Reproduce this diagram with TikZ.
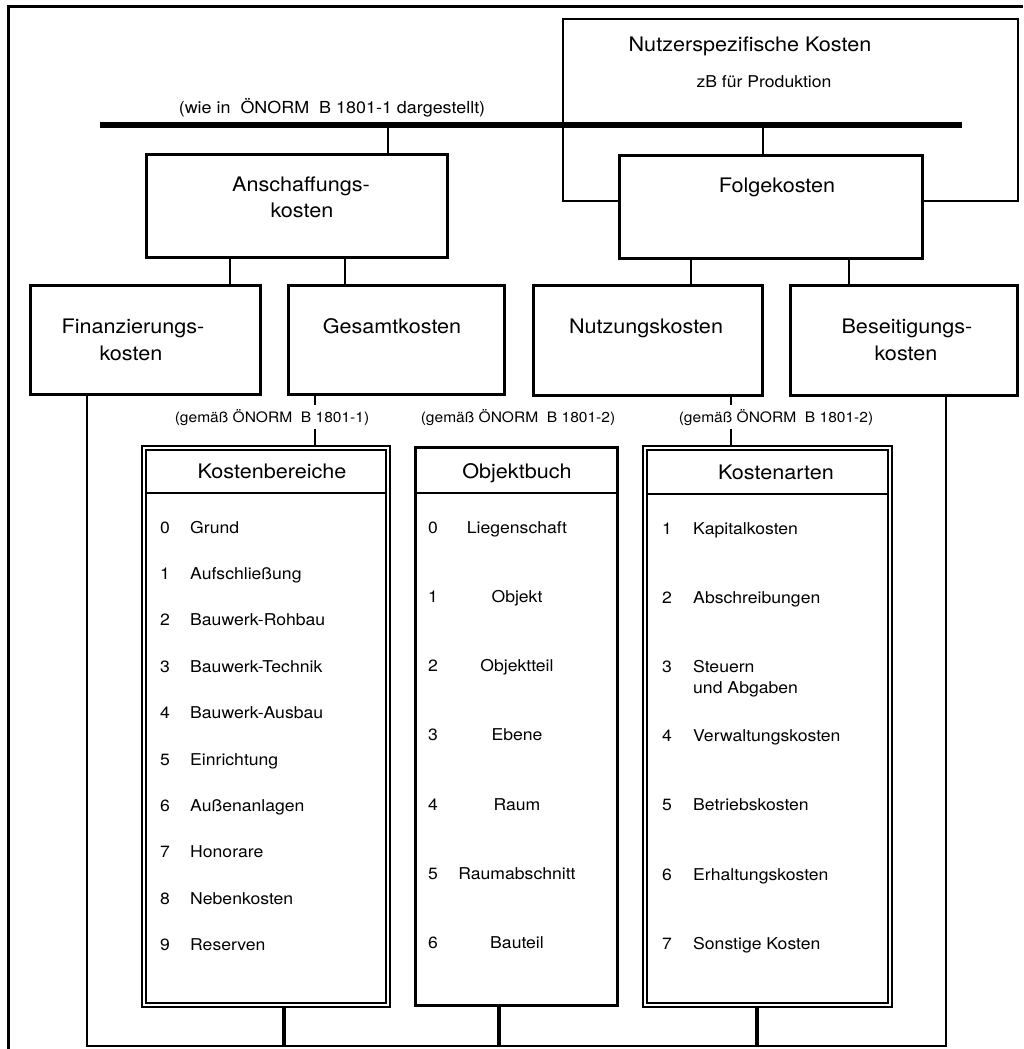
\documentclass[tikz,border=0pt]{standalone}
\usepackage{fontspec}
\setmainfont{TeX Gyre Heros}[FakeStretch=1.08]
\usetikzlibrary{calc}
\begin{document}
\begin{tikzpicture}[x=1pt,y=-1pt,
  box/.style={draw,line width=2.7pt,fill=white,inner sep=0pt,anchor=north west},
  dbox/.style={draw,line width=1.8pt,fill=white,inner sep=0pt,anchor=north west},
  thinbox/.style={draw,line width=1.6pt,inner sep=0pt,anchor=north west},
  conn/.style={line width=2.5pt},
  bconn/.style={line width=3.5pt},
  bar/.style={line width=6pt},
  hdr/.style={font=\fontsize{20}{24}\selectfont,inner sep=0pt,anchor=base},
  sub/.style={font=\fontsize{16.3}{20}\selectfont,inner sep=0pt,anchor=base},
  lbl/.style={font=\fontsize{14.4}{18}\selectfont,inner xsep=3pt,inner ysep=4pt,anchor=base,fill=white},
  toplbl/.style={font=\fontsize{16.6}{20}\selectfont,inner sep=0pt,anchor=base},
  num/.style={font=\fontsize{16.3}{20}\selectfont,inner sep=0pt,anchor=base},
  item/.style={font=\fontsize{16.3}{20}\selectfont,inner sep=0pt,anchor=base west},
  citem/.style={font=\fontsize{16.3}{20}\selectfont,inner sep=0pt,anchor=base},
]
\useasboundingbox (0,0) rectangle (1023,1049);
\fill[white] (0,0) rectangle (1023,1049);

% outer frame (cropped at right and bottom)
\coordinate (frBL) at (8,1049);
\coordinate (frTL) at (8,7);
\coordinate (frTR) at (1023,7);
\draw[line width=3pt] (frBL) -- (frTL) -- (frTR);

% user specific costs box (behind)
\node[thinbox,minimum width=455pt,minimum height=182pt] (nutzer) at (562,18) {};
\node[hdr] (nutzerT) at (750,52) {Nutzerspezifische Kosten};
\node[sub] (nutzerS) at (764,87) {zB für Produktion};

% top bar
\coordinate (barL) at (100,125);
\coordinate (barR) at (962,125);
\draw[bar] (barL) -- (barR);
\node[toplbl] (wie) at (332,113) {(wie in\ \ ÖNORM\ \ B 1801-1 dargestellt)};

% level 1 boxes
\node[box,minimum width=301pt,minimum height=103pt] (ansch) at (145,153) {};
\node[box,minimum width=303pt,minimum height=103pt] (folge) at (618,154) {};
\node[hdr] (anschT1) at (301,191) {Anschaffungs-};
\node[hdr] (anschT2) at (302,217) {kosten};
\node[hdr] (folgeT) at (777,192) {Folgekosten};

\coordinate (barA) at (388,125);
\coordinate (barF) at (763,125);
\draw[conn] (barA) -- (barA |- ansch.north);
\draw[conn] (barF) -- (barF |- folge.north);

% level 2 boxes
\node[box,minimum width=230pt,minimum height=109pt] (finanz) at (29,284) {};
\node[box,minimum width=216pt,minimum height=109pt] (gesamt) at (287,284) {};
\node[box,minimum width=229pt,minimum height=110pt] (nutzung) at (532,284) {};
\node[box,minimum width=227pt,minimum height=110pt] (beseit) at (789,284) {};
\node[hdr] (finanzT1) at (133,333) {Finanzierungs-};
\node[hdr] (finanzT2) at (131,360) {kosten};
\node[hdr] (gesamtT) at (392,333) {Gesamtkosten};
\node[hdr] (nutzungT) at (646,333) {Nutzungskosten};
\node[hdr] (beseitT1) at (907,333) {Beseitigungs-};
\node[hdr] (beseitT2) at (906,360) {kosten};

\coordinate (xFin) at (230,0);
\coordinate (xGes) at (345,0);
\coordinate (xNut) at (691,0);
\coordinate (xBes) at (849,0);
\draw[conn] (ansch.south -| xFin) -- (finanz.north -| xFin);
\draw[conn] (ansch.south -| xGes) -- (gesamt.north -| xGes);
\draw[conn] (folge.south -| xNut) -- (nutzung.north -| xNut);
\draw[conn] (folge.south -| xBes) -- (beseit.north -| xBes);

% list boxes
\node[dbox,minimum width=248pt,minimum height=561pt] (kb) at (141,445) {};
\draw[line width=2.2pt] ($(kb.north west)+(5,5)$) rectangle ($(kb.south east)+(-5,-5)$);
\draw[line width=2.2pt] ($(kb.north west)+(5,48)$) -- ($(kb.north east)+(-5,48)$);

\node[box,minimum width=202pt,minimum height=558pt] (ob) at (414,446) {};
\draw[line width=2.4pt] ($(ob.north west)+(0,47)$) -- ($(ob.north east)+(0,47)$);

\node[dbox,minimum width=249pt,minimum height=561pt] (ka) at (642,445) {};
\draw[line width=2.2pt] ($(ka.north west)+(5,5)$) rectangle ($(ka.south east)+(-5,-5)$);
\draw[line width=2.2pt] ($(ka.north west)+(5,49)$) -- ($(ka.north east)+(-5,49)$);

\node[hdr] (kbT) at (272,478) {Kostenbereiche};
\node[hdr] (obT) at (517,478) {Objektbuch};
\node[hdr] (kaT) at (776,479) {Kostenarten};

% connectors to list boxes with interrupting labels
\coordinate (xKb) at (315,0);
\coordinate (xKa) at (731,0);
\draw[conn] (gesamt.south -| xKb) -- (kb.north -| xKb);
\draw[conn] (nutzung.south -| xKa) -- (ka.north -| xKa);
\node[lbl] (g1) at (272,422) {(gemäß ÖNORM\ \ B 1801-1)};
\node[lbl] (g2) at (518,422) {(gemäß ÖNORM\ \ B 1801-2)};
\node[lbl] (g3) at (776,422) {(gemäß ÖNORM\ \ B 1801-2)};

% items
\foreach \n/\t [count=\i from 0] in {0/Grund,1/Aufschließung,2/Bauwerk-Rohbau,3/Bauwerk-Technik,4/Bauwerk-Ausbau,5/Einrichtung,6/Außenanlagen,7/Honorare,8/Nebenkosten,9/Reserven}{
  \node[num] (kbn\i) at (165,533+46.4*\i) {\n};
  \node[item] (kbt\i) at (190,533+46.4*\i) {\t};
}
\foreach \n/\t [count=\i from 0] in {0/Liegenschaft,1/Objekt,2/Objektteil,3/Ebene,4/Raum,5/Raumabschnitt,6/Bauteil}{
  \node[num] (obn\i) at (433,533+69.3*\i) {\n};
  \node[citem] (obt\i) at (517,533+69.3*\i) {\t};
}
\foreach \n/\t [count=\i from 0] in {1/Kapitalkosten,2/Abschreibungen,3/Steuern,4/Verwaltungskosten,5/Betriebskosten,6/Erhaltungskosten,7/Sonstige Kosten}{
  \node[num] (kan\i) at (667,534+69.2*\i) {\n};
  \node[item] (kat\i) at (693,534+69.2*\i) {\t};
}
\node[item] (kat2b) at (693,693) {und Abgaben};

% bottom loop
\coordinate (loopL) at (87,1046);
\coordinate (loopR) at (946,1046);
\draw[conn] (finanz.south -| loopL) -- (loopL) -- (loopR) -- (beseit.south -| loopR);
\coordinate (kbB) at (284,1046);
\coordinate (obB) at (499,1046);
\coordinate (kaB) at (757,1046);
\draw[bconn] (kb.south -| kbB) -- (kbB);
\draw[bconn] (ob.south -| obB) -- (obB);
\draw[bconn] (ka.south -| kaB) -- (kaB);
\end{tikzpicture}
\end{document}
